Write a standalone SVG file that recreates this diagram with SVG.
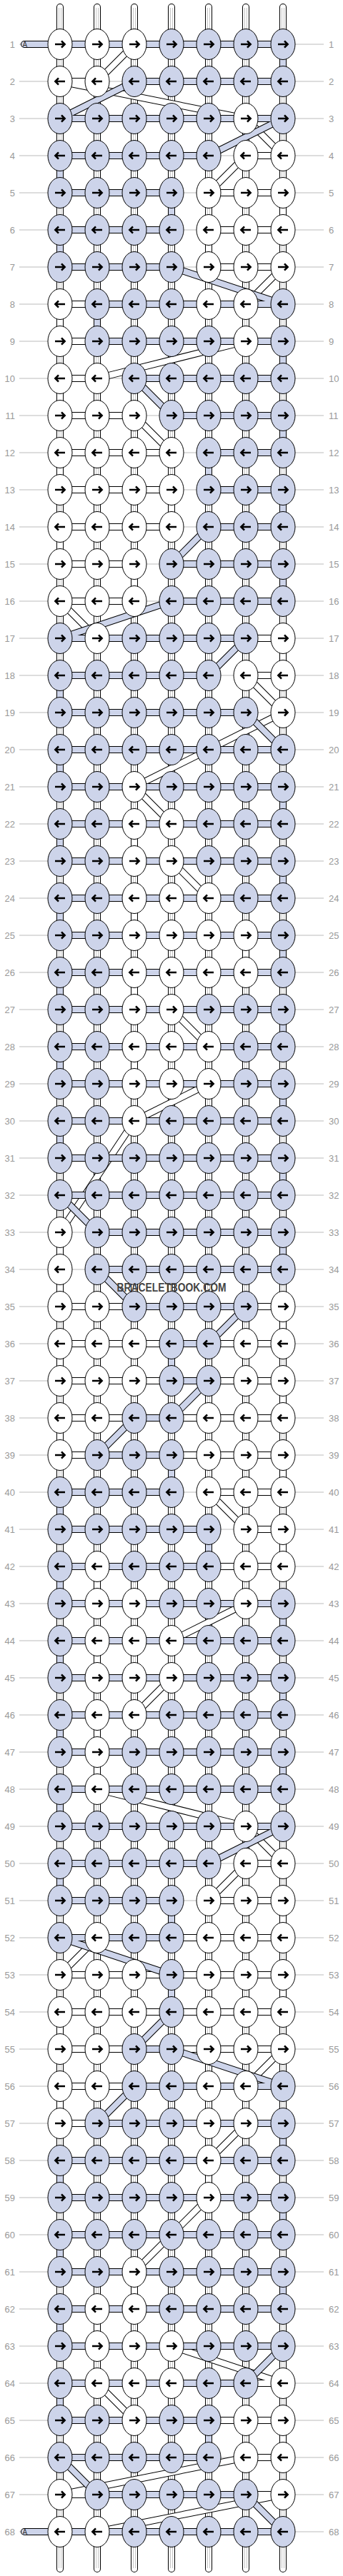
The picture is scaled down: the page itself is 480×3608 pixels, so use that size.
<svg xmlns="http://www.w3.org/2000/svg" xmlns:xlink="http://www.w3.org/1999/xlink" width="480" height="3608" viewBox="0 0 480 3608">
<style>
.gl{stroke:#bbb;stroke-width:1;fill:none}
.lb{font-family:"Liberation Sans",Arial,sans-serif;font-size:13px;fill:#999}
.le{text-anchor:end}
.k1{stroke:#000;stroke-width:10;stroke-linecap:round;fill:none}
.k2{stroke:#fff;stroke-width:8;stroke-linecap:round;fill:none}
.k3{stroke:#c4c4c4;stroke-width:4;fill:none}
.k4{stroke:#fff;stroke-width:2;fill:none}
.bo{stroke:#000;stroke-width:10;fill:none;stroke-linejoin:round}
.wf{stroke:#fff;stroke-width:8;fill:none;stroke-linejoin:round}
.lf{stroke:#cdd4ea;stroke-width:8;fill:none;stroke-linejoin:round}
.lc{stroke-linecap:round}
.w{fill:#fff;stroke:#000;stroke-width:1}
.b{fill:#cdd4ea;stroke:#000;stroke-width:1}
.ar{fill:none;stroke:#000;stroke-width:2.6}
.wm{font-family:"Liberation Sans",Arial,sans-serif;font-weight:bold;font-size:16px;fill:#444;text-anchor:middle}
.al{font-family:"Liberation Sans",Arial,sans-serif;font-size:10px;fill:#333}
</style>
<defs>
<path id="ar" class="ar" d="M-7,0H6M2,-4.6L6.6,0L2,4.6"/>
<g id="Wr"><ellipse class="w" rx="17" ry="21.5"/><use href="#ar"/></g>
<g id="Wl"><ellipse class="w" rx="17" ry="21.5"/><use href="#ar" transform="scale(-1,1)"/></g>
<g id="Br"><ellipse class="b" rx="17" ry="21.5"/><use href="#ar"/></g>
<g id="Bl"><ellipse class="b" rx="17" ry="21.5"/><use href="#ar" transform="scale(-1,1)"/></g>
<path id="wpath" d="M84,62L188,62L136,114L84,114L344,166L396,218L344,218L292,270L396,270L396,322L292,322L292,374L396,374L344,426L84,426L84,478L344,478L136,530L84,530L84,582L188,582L240,634L84,634L84,686L240,686L240,738L84,738L84,790L188,790L188,842L84,842L136,894L396,894L396,946L344,946L396,998L188,1102L240,1154L188,1154L188,1206L240,1206L292,1258L188,1258L188,1310L344,1310L344,1362L188,1362L188,1414L240,1414L292,1466L188,1466L188,1518L292,1518L188,1570L84,1726L84,1778L84,1830L396,1830L396,1882L84,1882L84,1934L396,1934L396,1986L84,1986L84,2038L396,2038L396,2090L292,2090L344,2142L396,2142L396,2194L136,2194L136,2246L344,2246L240,2298L136,2298L136,2350L240,2350L188,2402L136,2402L136,2454L136,2506L344,2558L396,2610L344,2610L292,2662L396,2662L396,2714L136,2714L84,2766L396,2766L396,2818L84,2818L84,2870L396,2870L344,2922L84,2922L84,2974L344,2974L292,3026L292,3078L188,3182L188,3234L136,3234L136,3286L240,3286L396,3338L136,3338L188,3390L396,3390L396,3442L344,3442L84,3494L396,3494L136,3546L84,3546"/>
<path id="lpath" d="M34,62L396,62L396,114L188,114L84,166L396,166L292,218L84,218L84,270L240,270L240,322L84,322L84,374L240,374L396,426L136,426L136,478L396,478L396,530L188,530L240,582L396,582L396,634L292,634L292,686L396,686L396,738L292,738L240,790L396,790L396,842L240,842L84,894L344,894L292,946L84,946L84,998L344,998L396,1050L84,1050L84,1102L396,1102L396,1154L84,1154L84,1206L396,1206L396,1258L84,1258L84,1310L396,1310L396,1362L84,1362L84,1414L396,1414L396,1466L84,1466L84,1518L396,1518L396,1570L84,1570L84,1622L396,1622L396,1674L84,1674L136,1726L396,1726L396,1778L136,1778L188,1830L344,1830L292,1882L240,1882L240,1934L292,1934L240,1986L188,1986L136,2038L240,2038L240,2090L84,2090L84,2142L292,2142L292,2194L84,2194L84,2246L396,2246L396,2298L84,2298L84,2350L396,2350L396,2402L84,2402L84,2454L396,2454L396,2506L84,2506L84,2558L396,2558L292,2610L84,2610L84,2662L240,2662L240,2714L84,2714L240,2766L240,2818L188,2870L240,2870L396,2922L188,2922L136,2974L396,2974L396,3026L84,3026L84,3078L396,3078L396,3130L84,3130L84,3182L396,3182L396,3234L84,3234L84,3286L396,3286L344,3338L84,3338L84,3390L292,3390L292,3442L84,3442L136,3494L344,3494L396,3546L34,3546"/>
</defs>
<rect width="480" height="3608" fill="#fff"/>
<g id="rows">
<path class="gl" d="M27,62H453M27,114H453M27,166H453M27,218H453M27,270H453M27,322H453M27,374H453M27,426H453M27,478H453M27,530H453M27,582H453M27,634H453M27,686H453M27,738H453M27,790H453M27,842H453M27,894H453M27,946H453M27,998H453M27,1050H453M27,1102H453M27,1154H453M27,1206H453M27,1258H453M27,1310H453M27,1362H453M27,1414H453M27,1466H453M27,1518H453M27,1570H453M27,1622H453M27,1674H453M27,1726H453M27,1778H453M27,1830H453M27,1882H453M27,1934H453M27,1986H453M27,2038H453M27,2090H453M27,2142H453M27,2194H453M27,2246H453M27,2298H453M27,2350H453M27,2402H453M27,2454H453M27,2506H453M27,2558H453M27,2610H453M27,2662H453M27,2714H453M27,2766H453M27,2818H453M27,2870H453M27,2922H453M27,2974H453M27,3026H453M27,3078H453M27,3130H453M27,3182H453M27,3234H453M27,3286H453M27,3338H453M27,3390H453M27,3442H453M27,3494H453M27,3546H453"/>
<g class="lb le">
<text x="21" y="66.5">1</text><text x="21" y="118.5">2</text><text x="21" y="170.5">3</text><text x="21" y="222.5">4</text><text x="21" y="274.5">5</text><text x="21" y="326.5">6</text><text x="21" y="378.5">7</text><text x="21" y="430.5">8</text><text x="21" y="482.5">9</text><text x="21" y="534.5">10</text><text x="21" y="586.5">11</text><text x="21" y="638.5">12</text><text x="21" y="690.5">13</text><text x="21" y="742.5">14</text><text x="21" y="794.5">15</text><text x="21" y="846.5">16</text><text x="21" y="898.5">17</text><text x="21" y="950.5">18</text><text x="21" y="1002.5">19</text><text x="21" y="1054.5">20</text><text x="21" y="1106.5">21</text><text x="21" y="1158.5">22</text><text x="21" y="1210.5">23</text><text x="21" y="1262.5">24</text><text x="21" y="1314.5">25</text><text x="21" y="1366.5">26</text><text x="21" y="1418.5">27</text><text x="21" y="1470.5">28</text><text x="21" y="1522.5">29</text><text x="21" y="1574.5">30</text><text x="21" y="1626.5">31</text><text x="21" y="1678.5">32</text><text x="21" y="1730.5">33</text><text x="21" y="1782.5">34</text><text x="21" y="1834.5">35</text><text x="21" y="1886.5">36</text><text x="21" y="1938.5">37</text><text x="21" y="1990.5">38</text><text x="21" y="2042.5">39</text><text x="21" y="2094.5">40</text><text x="21" y="2146.5">41</text><text x="21" y="2198.5">42</text><text x="21" y="2250.5">43</text><text x="21" y="2302.5">44</text><text x="21" y="2354.5">45</text><text x="21" y="2406.5">46</text><text x="21" y="2458.5">47</text><text x="21" y="2510.5">48</text><text x="21" y="2562.5">49</text><text x="21" y="2614.5">50</text><text x="21" y="2666.5">51</text><text x="21" y="2718.5">52</text><text x="21" y="2770.5">53</text><text x="21" y="2822.5">54</text><text x="21" y="2874.5">55</text><text x="21" y="2926.5">56</text><text x="21" y="2978.5">57</text><text x="21" y="3030.5">58</text><text x="21" y="3082.5">59</text><text x="21" y="3134.5">60</text><text x="21" y="3186.5">61</text><text x="21" y="3238.5">62</text><text x="21" y="3290.5">63</text><text x="21" y="3342.5">64</text><text x="21" y="3394.5">65</text><text x="21" y="3446.5">66</text><text x="21" y="3498.5">67</text><text x="21" y="3550.5">68</text>
</g>
<g class="lb">
<text x="460" y="66.5">1</text><text x="460" y="118.5">2</text><text x="460" y="170.5">3</text><text x="460" y="222.5">4</text><text x="460" y="274.5">5</text><text x="460" y="326.5">6</text><text x="460" y="378.5">7</text><text x="460" y="430.5">8</text><text x="460" y="482.5">9</text><text x="460" y="534.5">10</text><text x="460" y="586.5">11</text><text x="460" y="638.5">12</text><text x="460" y="690.5">13</text><text x="460" y="742.5">14</text><text x="460" y="794.5">15</text><text x="460" y="846.5">16</text><text x="460" y="898.5">17</text><text x="460" y="950.5">18</text><text x="460" y="1002.5">19</text><text x="460" y="1054.5">20</text><text x="460" y="1106.5">21</text><text x="460" y="1158.5">22</text><text x="460" y="1210.5">23</text><text x="460" y="1262.5">24</text><text x="460" y="1314.5">25</text><text x="460" y="1366.5">26</text><text x="460" y="1418.5">27</text><text x="460" y="1470.5">28</text><text x="460" y="1522.5">29</text><text x="460" y="1574.5">30</text><text x="460" y="1626.5">31</text><text x="460" y="1678.5">32</text><text x="460" y="1730.5">33</text><text x="460" y="1782.5">34</text><text x="460" y="1834.5">35</text><text x="460" y="1886.5">36</text><text x="460" y="1938.5">37</text><text x="460" y="1990.5">38</text><text x="460" y="2042.5">39</text><text x="460" y="2094.5">40</text><text x="460" y="2146.5">41</text><text x="460" y="2198.5">42</text><text x="460" y="2250.5">43</text><text x="460" y="2302.5">44</text><text x="460" y="2354.5">45</text><text x="460" y="2406.5">46</text><text x="460" y="2458.5">47</text><text x="460" y="2510.5">48</text><text x="460" y="2562.5">49</text><text x="460" y="2614.5">50</text><text x="460" y="2666.5">51</text><text x="460" y="2718.5">52</text><text x="460" y="2770.5">53</text><text x="460" y="2822.5">54</text><text x="460" y="2874.5">55</text><text x="460" y="2926.5">56</text><text x="460" y="2978.5">57</text><text x="460" y="3030.5">58</text><text x="460" y="3082.5">59</text><text x="460" y="3134.5">60</text><text x="460" y="3186.5">61</text><text x="460" y="3238.5">62</text><text x="460" y="3290.5">63</text><text x="460" y="3342.5">64</text><text x="460" y="3394.5">65</text><text x="460" y="3446.5">66</text><text x="460" y="3498.5">67</text><text x="460" y="3550.5">68</text>
</g>
</g>
<g id="connectors">
<g id="warp">
<path class="k1" d="M84,10V3598M136,10V3598M188,10V3598M240,10V3598M292,10V3598M344,10V3598M396,10V3598"/>
<path class="k2" d="M84,10V3598M136,10V3598M188,10V3598M240,10V3598M292,10V3598M344,10V3598M396,10V3598"/>
<path class="k3" d="M84,11V3597M136,11V3597M188,11V3597M240,11V3597M292,11V3597M344,11V3597M396,11V3597"/>
<path class="k4" d="M84,11V3597M136,11V3597M188,11V3597M240,11V3597M292,11V3597M344,11V3597M396,11V3597"/>
</g>
<g id="white-string">
<use href="#wpath" class="bo"/>
<use href="#wpath" class="wf"/>
</g>
<g id="lavender-string">
<use href="#lpath" class="bo lc"/>
<use href="#lpath" class="lf lc"/>
<text class="al" x="31.5" y="65.6">A</text>
<text class="al" x="31.5" y="3549.6">A</text>
</g>
</g>
<g id="nodes">
<g id="n1-1"><use href="#Wr" x="84" y="62"/></g><g id="n1-2"><use href="#Wr" x="136" y="62"/></g><g id="n1-3"><use href="#Wr" x="188" y="62"/></g><g id="n1-4"><use href="#Br" x="240" y="62"/></g><g id="n1-5"><use href="#Br" x="292" y="62"/></g><g id="n1-6"><use href="#Br" x="344" y="62"/></g><g id="n1-7"><use href="#Br" x="396" y="62"/></g>
<g id="n2-1"><use href="#Wl" x="84" y="114"/></g><g id="n2-2"><use href="#Wl" x="136" y="114"/></g><g id="n2-3"><use href="#Bl" x="188" y="114"/></g><g id="n2-4"><use href="#Bl" x="240" y="114"/></g><g id="n2-5"><use href="#Bl" x="292" y="114"/></g><g id="n2-6"><use href="#Bl" x="344" y="114"/></g><g id="n2-7"><use href="#Bl" x="396" y="114"/></g>
<g id="n3-1"><use href="#Br" x="84" y="166"/></g><g id="n3-2"><use href="#Br" x="136" y="166"/></g><g id="n3-3"><use href="#Br" x="188" y="166"/></g><g id="n3-4"><use href="#Br" x="240" y="166"/></g><g id="n3-5"><use href="#Br" x="292" y="166"/></g><g id="n3-6"><use href="#Wr" x="344" y="166"/></g><g id="n3-7"><use href="#Br" x="396" y="166"/></g>
<g id="n4-1"><use href="#Bl" x="84" y="218"/></g><g id="n4-2"><use href="#Bl" x="136" y="218"/></g><g id="n4-3"><use href="#Bl" x="188" y="218"/></g><g id="n4-4"><use href="#Bl" x="240" y="218"/></g><g id="n4-5"><use href="#Bl" x="292" y="218"/></g><g id="n4-6"><use href="#Wl" x="344" y="218"/></g><g id="n4-7"><use href="#Wl" x="396" y="218"/></g>
<g id="n5-1"><use href="#Br" x="84" y="270"/></g><g id="n5-2"><use href="#Br" x="136" y="270"/></g><g id="n5-3"><use href="#Br" x="188" y="270"/></g><g id="n5-4"><use href="#Br" x="240" y="270"/></g><g id="n5-5"><use href="#Wr" x="292" y="270"/></g><g id="n5-6"><use href="#Wr" x="344" y="270"/></g><g id="n5-7"><use href="#Wr" x="396" y="270"/></g>
<g id="n6-1"><use href="#Bl" x="84" y="322"/></g><g id="n6-2"><use href="#Bl" x="136" y="322"/></g><g id="n6-3"><use href="#Bl" x="188" y="322"/></g><g id="n6-4"><use href="#Bl" x="240" y="322"/></g><g id="n6-5"><use href="#Wl" x="292" y="322"/></g><g id="n6-6"><use href="#Wl" x="344" y="322"/></g><g id="n6-7"><use href="#Wl" x="396" y="322"/></g>
<g id="n7-1"><use href="#Br" x="84" y="374"/></g><g id="n7-2"><use href="#Br" x="136" y="374"/></g><g id="n7-3"><use href="#Br" x="188" y="374"/></g><g id="n7-4"><use href="#Br" x="240" y="374"/></g><g id="n7-5"><use href="#Wr" x="292" y="374"/></g><g id="n7-6"><use href="#Wr" x="344" y="374"/></g><g id="n7-7"><use href="#Wr" x="396" y="374"/></g>
<g id="n8-1"><use href="#Wl" x="84" y="426"/></g><g id="n8-2"><use href="#Bl" x="136" y="426"/></g><g id="n8-3"><use href="#Bl" x="188" y="426"/></g><g id="n8-4"><use href="#Bl" x="240" y="426"/></g><g id="n8-5"><use href="#Wl" x="292" y="426"/></g><g id="n8-6"><use href="#Wl" x="344" y="426"/></g><g id="n8-7"><use href="#Bl" x="396" y="426"/></g>
<g id="n9-1"><use href="#Wr" x="84" y="478"/></g><g id="n9-2"><use href="#Br" x="136" y="478"/></g><g id="n9-3"><use href="#Br" x="188" y="478"/></g><g id="n9-4"><use href="#Br" x="240" y="478"/></g><g id="n9-5"><use href="#Br" x="292" y="478"/></g><g id="n9-6"><use href="#Wr" x="344" y="478"/></g><g id="n9-7"><use href="#Br" x="396" y="478"/></g>
<g id="n10-1"><use href="#Wl" x="84" y="530"/></g><g id="n10-2"><use href="#Wl" x="136" y="530"/></g><g id="n10-3"><use href="#Bl" x="188" y="530"/></g><g id="n10-4"><use href="#Bl" x="240" y="530"/></g><g id="n10-5"><use href="#Bl" x="292" y="530"/></g><g id="n10-6"><use href="#Bl" x="344" y="530"/></g><g id="n10-7"><use href="#Bl" x="396" y="530"/></g>
<g id="n11-1"><use href="#Wr" x="84" y="582"/></g><g id="n11-2"><use href="#Wr" x="136" y="582"/></g><g id="n11-3"><use href="#Wr" x="188" y="582"/></g><g id="n11-4"><use href="#Br" x="240" y="582"/></g><g id="n11-5"><use href="#Br" x="292" y="582"/></g><g id="n11-6"><use href="#Br" x="344" y="582"/></g><g id="n11-7"><use href="#Br" x="396" y="582"/></g>
<g id="n12-1"><use href="#Wl" x="84" y="634"/></g><g id="n12-2"><use href="#Wl" x="136" y="634"/></g><g id="n12-3"><use href="#Wl" x="188" y="634"/></g><g id="n12-4"><use href="#Wl" x="240" y="634"/></g><g id="n12-5"><use href="#Bl" x="292" y="634"/></g><g id="n12-6"><use href="#Bl" x="344" y="634"/></g><g id="n12-7"><use href="#Bl" x="396" y="634"/></g>
<g id="n13-1"><use href="#Wr" x="84" y="686"/></g><g id="n13-2"><use href="#Wr" x="136" y="686"/></g><g id="n13-3"><use href="#Wr" x="188" y="686"/></g><g id="n13-4"><use href="#Wr" x="240" y="686"/></g><g id="n13-5"><use href="#Br" x="292" y="686"/></g><g id="n13-6"><use href="#Br" x="344" y="686"/></g><g id="n13-7"><use href="#Br" x="396" y="686"/></g>
<g id="n14-1"><use href="#Wl" x="84" y="738"/></g><g id="n14-2"><use href="#Wl" x="136" y="738"/></g><g id="n14-3"><use href="#Wl" x="188" y="738"/></g><g id="n14-4"><use href="#Wl" x="240" y="738"/></g><g id="n14-5"><use href="#Bl" x="292" y="738"/></g><g id="n14-6"><use href="#Bl" x="344" y="738"/></g><g id="n14-7"><use href="#Bl" x="396" y="738"/></g>
<g id="n15-1"><use href="#Wr" x="84" y="790"/></g><g id="n15-2"><use href="#Wr" x="136" y="790"/></g><g id="n15-3"><use href="#Wr" x="188" y="790"/></g><g id="n15-4"><use href="#Br" x="240" y="790"/></g><g id="n15-5"><use href="#Br" x="292" y="790"/></g><g id="n15-6"><use href="#Br" x="344" y="790"/></g><g id="n15-7"><use href="#Br" x="396" y="790"/></g>
<g id="n16-1"><use href="#Wl" x="84" y="842"/></g><g id="n16-2"><use href="#Wl" x="136" y="842"/></g><g id="n16-3"><use href="#Wl" x="188" y="842"/></g><g id="n16-4"><use href="#Bl" x="240" y="842"/></g><g id="n16-5"><use href="#Bl" x="292" y="842"/></g><g id="n16-6"><use href="#Bl" x="344" y="842"/></g><g id="n16-7"><use href="#Bl" x="396" y="842"/></g>
<g id="n17-1"><use href="#Br" x="84" y="894"/></g><g id="n17-2"><use href="#Wr" x="136" y="894"/></g><g id="n17-3"><use href="#Br" x="188" y="894"/></g><g id="n17-4"><use href="#Br" x="240" y="894"/></g><g id="n17-5"><use href="#Br" x="292" y="894"/></g><g id="n17-6"><use href="#Br" x="344" y="894"/></g><g id="n17-7"><use href="#Wr" x="396" y="894"/></g>
<g id="n18-1"><use href="#Bl" x="84" y="946"/></g><g id="n18-2"><use href="#Bl" x="136" y="946"/></g><g id="n18-3"><use href="#Bl" x="188" y="946"/></g><g id="n18-4"><use href="#Bl" x="240" y="946"/></g><g id="n18-5"><use href="#Bl" x="292" y="946"/></g><g id="n18-6"><use href="#Wl" x="344" y="946"/></g><g id="n18-7"><use href="#Wl" x="396" y="946"/></g>
<g id="n19-1"><use href="#Br" x="84" y="998"/></g><g id="n19-2"><use href="#Br" x="136" y="998"/></g><g id="n19-3"><use href="#Br" x="188" y="998"/></g><g id="n19-4"><use href="#Br" x="240" y="998"/></g><g id="n19-5"><use href="#Br" x="292" y="998"/></g><g id="n19-6"><use href="#Br" x="344" y="998"/></g><g id="n19-7"><use href="#Wr" x="396" y="998"/></g>
<g id="n20-1"><use href="#Bl" x="84" y="1050"/></g><g id="n20-2"><use href="#Bl" x="136" y="1050"/></g><g id="n20-3"><use href="#Bl" x="188" y="1050"/></g><g id="n20-4"><use href="#Bl" x="240" y="1050"/></g><g id="n20-5"><use href="#Bl" x="292" y="1050"/></g><g id="n20-6"><use href="#Bl" x="344" y="1050"/></g><g id="n20-7"><use href="#Bl" x="396" y="1050"/></g>
<g id="n21-1"><use href="#Br" x="84" y="1102"/></g><g id="n21-2"><use href="#Br" x="136" y="1102"/></g><g id="n21-3"><use href="#Wr" x="188" y="1102"/></g><g id="n21-4"><use href="#Br" x="240" y="1102"/></g><g id="n21-5"><use href="#Br" x="292" y="1102"/></g><g id="n21-6"><use href="#Br" x="344" y="1102"/></g><g id="n21-7"><use href="#Br" x="396" y="1102"/></g>
<g id="n22-1"><use href="#Bl" x="84" y="1154"/></g><g id="n22-2"><use href="#Bl" x="136" y="1154"/></g><g id="n22-3"><use href="#Wl" x="188" y="1154"/></g><g id="n22-4"><use href="#Wl" x="240" y="1154"/></g><g id="n22-5"><use href="#Bl" x="292" y="1154"/></g><g id="n22-6"><use href="#Bl" x="344" y="1154"/></g><g id="n22-7"><use href="#Bl" x="396" y="1154"/></g>
<g id="n23-1"><use href="#Br" x="84" y="1206"/></g><g id="n23-2"><use href="#Br" x="136" y="1206"/></g><g id="n23-3"><use href="#Wr" x="188" y="1206"/></g><g id="n23-4"><use href="#Wr" x="240" y="1206"/></g><g id="n23-5"><use href="#Br" x="292" y="1206"/></g><g id="n23-6"><use href="#Br" x="344" y="1206"/></g><g id="n23-7"><use href="#Br" x="396" y="1206"/></g>
<g id="n24-1"><use href="#Bl" x="84" y="1258"/></g><g id="n24-2"><use href="#Bl" x="136" y="1258"/></g><g id="n24-3"><use href="#Wl" x="188" y="1258"/></g><g id="n24-4"><use href="#Wl" x="240" y="1258"/></g><g id="n24-5"><use href="#Wl" x="292" y="1258"/></g><g id="n24-6"><use href="#Bl" x="344" y="1258"/></g><g id="n24-7"><use href="#Bl" x="396" y="1258"/></g>
<g id="n25-1"><use href="#Br" x="84" y="1310"/></g><g id="n25-2"><use href="#Br" x="136" y="1310"/></g><g id="n25-3"><use href="#Wr" x="188" y="1310"/></g><g id="n25-4"><use href="#Wr" x="240" y="1310"/></g><g id="n25-5"><use href="#Wr" x="292" y="1310"/></g><g id="n25-6"><use href="#Wr" x="344" y="1310"/></g><g id="n25-7"><use href="#Br" x="396" y="1310"/></g>
<g id="n26-1"><use href="#Bl" x="84" y="1362"/></g><g id="n26-2"><use href="#Bl" x="136" y="1362"/></g><g id="n26-3"><use href="#Wl" x="188" y="1362"/></g><g id="n26-4"><use href="#Wl" x="240" y="1362"/></g><g id="n26-5"><use href="#Wl" x="292" y="1362"/></g><g id="n26-6"><use href="#Wl" x="344" y="1362"/></g><g id="n26-7"><use href="#Bl" x="396" y="1362"/></g>
<g id="n27-1"><use href="#Br" x="84" y="1414"/></g><g id="n27-2"><use href="#Br" x="136" y="1414"/></g><g id="n27-3"><use href="#Wr" x="188" y="1414"/></g><g id="n27-4"><use href="#Wr" x="240" y="1414"/></g><g id="n27-5"><use href="#Br" x="292" y="1414"/></g><g id="n27-6"><use href="#Br" x="344" y="1414"/></g><g id="n27-7"><use href="#Br" x="396" y="1414"/></g>
<g id="n28-1"><use href="#Bl" x="84" y="1466"/></g><g id="n28-2"><use href="#Bl" x="136" y="1466"/></g><g id="n28-3"><use href="#Wl" x="188" y="1466"/></g><g id="n28-4"><use href="#Wl" x="240" y="1466"/></g><g id="n28-5"><use href="#Wl" x="292" y="1466"/></g><g id="n28-6"><use href="#Bl" x="344" y="1466"/></g><g id="n28-7"><use href="#Bl" x="396" y="1466"/></g>
<g id="n29-1"><use href="#Br" x="84" y="1518"/></g><g id="n29-2"><use href="#Br" x="136" y="1518"/></g><g id="n29-3"><use href="#Wr" x="188" y="1518"/></g><g id="n29-4"><use href="#Wr" x="240" y="1518"/></g><g id="n29-5"><use href="#Wr" x="292" y="1518"/></g><g id="n29-6"><use href="#Br" x="344" y="1518"/></g><g id="n29-7"><use href="#Br" x="396" y="1518"/></g>
<g id="n30-1"><use href="#Bl" x="84" y="1570"/></g><g id="n30-2"><use href="#Bl" x="136" y="1570"/></g><g id="n30-3"><use href="#Wl" x="188" y="1570"/></g><g id="n30-4"><use href="#Bl" x="240" y="1570"/></g><g id="n30-5"><use href="#Bl" x="292" y="1570"/></g><g id="n30-6"><use href="#Bl" x="344" y="1570"/></g><g id="n30-7"><use href="#Bl" x="396" y="1570"/></g>
<g id="n31-1"><use href="#Br" x="84" y="1622"/></g><g id="n31-2"><use href="#Br" x="136" y="1622"/></g><g id="n31-3"><use href="#Br" x="188" y="1622"/></g><g id="n31-4"><use href="#Br" x="240" y="1622"/></g><g id="n31-5"><use href="#Br" x="292" y="1622"/></g><g id="n31-6"><use href="#Br" x="344" y="1622"/></g><g id="n31-7"><use href="#Br" x="396" y="1622"/></g>
<g id="n32-1"><use href="#Bl" x="84" y="1674"/></g><g id="n32-2"><use href="#Bl" x="136" y="1674"/></g><g id="n32-3"><use href="#Bl" x="188" y="1674"/></g><g id="n32-4"><use href="#Bl" x="240" y="1674"/></g><g id="n32-5"><use href="#Bl" x="292" y="1674"/></g><g id="n32-6"><use href="#Bl" x="344" y="1674"/></g><g id="n32-7"><use href="#Bl" x="396" y="1674"/></g>
<g id="n33-1"><use href="#Wr" x="84" y="1726"/></g><g id="n33-2"><use href="#Br" x="136" y="1726"/></g><g id="n33-3"><use href="#Br" x="188" y="1726"/></g><g id="n33-4"><use href="#Br" x="240" y="1726"/></g><g id="n33-5"><use href="#Br" x="292" y="1726"/></g><g id="n33-6"><use href="#Br" x="344" y="1726"/></g><g id="n33-7"><use href="#Br" x="396" y="1726"/></g>
<g id="n34-1"><use href="#Wl" x="84" y="1778"/></g><g id="n34-2"><use href="#Bl" x="136" y="1778"/></g><g id="n34-3"><use href="#Bl" x="188" y="1778"/></g><g id="n34-4"><use href="#Bl" x="240" y="1778"/></g><g id="n34-5"><use href="#Bl" x="292" y="1778"/></g><g id="n34-6"><use href="#Bl" x="344" y="1778"/></g><g id="n34-7"><use href="#Bl" x="396" y="1778"/></g>
<g id="n35-1"><use href="#Wr" x="84" y="1830"/></g><g id="n35-2"><use href="#Wr" x="136" y="1830"/></g><g id="n35-3"><use href="#Br" x="188" y="1830"/></g><g id="n35-4"><use href="#Br" x="240" y="1830"/></g><g id="n35-5"><use href="#Br" x="292" y="1830"/></g><g id="n35-6"><use href="#Br" x="344" y="1830"/></g><g id="n35-7"><use href="#Wr" x="396" y="1830"/></g>
<g id="n36-1"><use href="#Wl" x="84" y="1882"/></g><g id="n36-2"><use href="#Wl" x="136" y="1882"/></g><g id="n36-3"><use href="#Wl" x="188" y="1882"/></g><g id="n36-4"><use href="#Bl" x="240" y="1882"/></g><g id="n36-5"><use href="#Bl" x="292" y="1882"/></g><g id="n36-6"><use href="#Wl" x="344" y="1882"/></g><g id="n36-7"><use href="#Wl" x="396" y="1882"/></g>
<g id="n37-1"><use href="#Wr" x="84" y="1934"/></g><g id="n37-2"><use href="#Wr" x="136" y="1934"/></g><g id="n37-3"><use href="#Wr" x="188" y="1934"/></g><g id="n37-4"><use href="#Br" x="240" y="1934"/></g><g id="n37-5"><use href="#Br" x="292" y="1934"/></g><g id="n37-6"><use href="#Wr" x="344" y="1934"/></g><g id="n37-7"><use href="#Wr" x="396" y="1934"/></g>
<g id="n38-1"><use href="#Wl" x="84" y="1986"/></g><g id="n38-2"><use href="#Wl" x="136" y="1986"/></g><g id="n38-3"><use href="#Bl" x="188" y="1986"/></g><g id="n38-4"><use href="#Bl" x="240" y="1986"/></g><g id="n38-5"><use href="#Wl" x="292" y="1986"/></g><g id="n38-6"><use href="#Wl" x="344" y="1986"/></g><g id="n38-7"><use href="#Wl" x="396" y="1986"/></g>
<g id="n39-1"><use href="#Wr" x="84" y="2038"/></g><g id="n39-2"><use href="#Br" x="136" y="2038"/></g><g id="n39-3"><use href="#Br" x="188" y="2038"/></g><g id="n39-4"><use href="#Br" x="240" y="2038"/></g><g id="n39-5"><use href="#Wr" x="292" y="2038"/></g><g id="n39-6"><use href="#Wr" x="344" y="2038"/></g><g id="n39-7"><use href="#Wr" x="396" y="2038"/></g>
<g id="n40-1"><use href="#Bl" x="84" y="2090"/></g><g id="n40-2"><use href="#Bl" x="136" y="2090"/></g><g id="n40-3"><use href="#Bl" x="188" y="2090"/></g><g id="n40-4"><use href="#Bl" x="240" y="2090"/></g><g id="n40-5"><use href="#Wl" x="292" y="2090"/></g><g id="n40-6"><use href="#Wl" x="344" y="2090"/></g><g id="n40-7"><use href="#Wl" x="396" y="2090"/></g>
<g id="n41-1"><use href="#Br" x="84" y="2142"/></g><g id="n41-2"><use href="#Br" x="136" y="2142"/></g><g id="n41-3"><use href="#Br" x="188" y="2142"/></g><g id="n41-4"><use href="#Br" x="240" y="2142"/></g><g id="n41-5"><use href="#Br" x="292" y="2142"/></g><g id="n41-6"><use href="#Wr" x="344" y="2142"/></g><g id="n41-7"><use href="#Wr" x="396" y="2142"/></g>
<g id="n42-1"><use href="#Bl" x="84" y="2194"/></g><g id="n42-2"><use href="#Wl" x="136" y="2194"/></g><g id="n42-3"><use href="#Bl" x="188" y="2194"/></g><g id="n42-4"><use href="#Bl" x="240" y="2194"/></g><g id="n42-5"><use href="#Bl" x="292" y="2194"/></g><g id="n42-6"><use href="#Wl" x="344" y="2194"/></g><g id="n42-7"><use href="#Wl" x="396" y="2194"/></g>
<g id="n43-1"><use href="#Br" x="84" y="2246"/></g><g id="n43-2"><use href="#Wr" x="136" y="2246"/></g><g id="n43-3"><use href="#Wr" x="188" y="2246"/></g><g id="n43-4"><use href="#Br" x="240" y="2246"/></g><g id="n43-5"><use href="#Br" x="292" y="2246"/></g><g id="n43-6"><use href="#Wr" x="344" y="2246"/></g><g id="n43-7"><use href="#Br" x="396" y="2246"/></g>
<g id="n44-1"><use href="#Bl" x="84" y="2298"/></g><g id="n44-2"><use href="#Wl" x="136" y="2298"/></g><g id="n44-3"><use href="#Wl" x="188" y="2298"/></g><g id="n44-4"><use href="#Wl" x="240" y="2298"/></g><g id="n44-5"><use href="#Bl" x="292" y="2298"/></g><g id="n44-6"><use href="#Bl" x="344" y="2298"/></g><g id="n44-7"><use href="#Bl" x="396" y="2298"/></g>
<g id="n45-1"><use href="#Br" x="84" y="2350"/></g><g id="n45-2"><use href="#Wr" x="136" y="2350"/></g><g id="n45-3"><use href="#Wr" x="188" y="2350"/></g><g id="n45-4"><use href="#Wr" x="240" y="2350"/></g><g id="n45-5"><use href="#Br" x="292" y="2350"/></g><g id="n45-6"><use href="#Br" x="344" y="2350"/></g><g id="n45-7"><use href="#Br" x="396" y="2350"/></g>
<g id="n46-1"><use href="#Bl" x="84" y="2402"/></g><g id="n46-2"><use href="#Wl" x="136" y="2402"/></g><g id="n46-3"><use href="#Wl" x="188" y="2402"/></g><g id="n46-4"><use href="#Bl" x="240" y="2402"/></g><g id="n46-5"><use href="#Bl" x="292" y="2402"/></g><g id="n46-6"><use href="#Bl" x="344" y="2402"/></g><g id="n46-7"><use href="#Bl" x="396" y="2402"/></g>
<g id="n47-1"><use href="#Br" x="84" y="2454"/></g><g id="n47-2"><use href="#Wr" x="136" y="2454"/></g><g id="n47-3"><use href="#Br" x="188" y="2454"/></g><g id="n47-4"><use href="#Br" x="240" y="2454"/></g><g id="n47-5"><use href="#Br" x="292" y="2454"/></g><g id="n47-6"><use href="#Br" x="344" y="2454"/></g><g id="n47-7"><use href="#Br" x="396" y="2454"/></g>
<g id="n48-1"><use href="#Bl" x="84" y="2506"/></g><g id="n48-2"><use href="#Wl" x="136" y="2506"/></g><g id="n48-3"><use href="#Bl" x="188" y="2506"/></g><g id="n48-4"><use href="#Bl" x="240" y="2506"/></g><g id="n48-5"><use href="#Bl" x="292" y="2506"/></g><g id="n48-6"><use href="#Bl" x="344" y="2506"/></g><g id="n48-7"><use href="#Bl" x="396" y="2506"/></g>
<g id="n49-1"><use href="#Br" x="84" y="2558"/></g><g id="n49-2"><use href="#Br" x="136" y="2558"/></g><g id="n49-3"><use href="#Br" x="188" y="2558"/></g><g id="n49-4"><use href="#Br" x="240" y="2558"/></g><g id="n49-5"><use href="#Br" x="292" y="2558"/></g><g id="n49-6"><use href="#Wr" x="344" y="2558"/></g><g id="n49-7"><use href="#Br" x="396" y="2558"/></g>
<g id="n50-1"><use href="#Bl" x="84" y="2610"/></g><g id="n50-2"><use href="#Bl" x="136" y="2610"/></g><g id="n50-3"><use href="#Bl" x="188" y="2610"/></g><g id="n50-4"><use href="#Bl" x="240" y="2610"/></g><g id="n50-5"><use href="#Bl" x="292" y="2610"/></g><g id="n50-6"><use href="#Wl" x="344" y="2610"/></g><g id="n50-7"><use href="#Wl" x="396" y="2610"/></g>
<g id="n51-1"><use href="#Br" x="84" y="2662"/></g><g id="n51-2"><use href="#Br" x="136" y="2662"/></g><g id="n51-3"><use href="#Br" x="188" y="2662"/></g><g id="n51-4"><use href="#Br" x="240" y="2662"/></g><g id="n51-5"><use href="#Wr" x="292" y="2662"/></g><g id="n51-6"><use href="#Wr" x="344" y="2662"/></g><g id="n51-7"><use href="#Wr" x="396" y="2662"/></g>
<g id="n52-1"><use href="#Bl" x="84" y="2714"/></g><g id="n52-2"><use href="#Wl" x="136" y="2714"/></g><g id="n52-3"><use href="#Bl" x="188" y="2714"/></g><g id="n52-4"><use href="#Bl" x="240" y="2714"/></g><g id="n52-5"><use href="#Wl" x="292" y="2714"/></g><g id="n52-6"><use href="#Wl" x="344" y="2714"/></g><g id="n52-7"><use href="#Wl" x="396" y="2714"/></g>
<g id="n53-1"><use href="#Wr" x="84" y="2766"/></g><g id="n53-2"><use href="#Wr" x="136" y="2766"/></g><g id="n53-3"><use href="#Wr" x="188" y="2766"/></g><g id="n53-4"><use href="#Br" x="240" y="2766"/></g><g id="n53-5"><use href="#Wr" x="292" y="2766"/></g><g id="n53-6"><use href="#Wr" x="344" y="2766"/></g><g id="n53-7"><use href="#Wr" x="396" y="2766"/></g>
<g id="n54-1"><use href="#Wl" x="84" y="2818"/></g><g id="n54-2"><use href="#Wl" x="136" y="2818"/></g><g id="n54-3"><use href="#Wl" x="188" y="2818"/></g><g id="n54-4"><use href="#Bl" x="240" y="2818"/></g><g id="n54-5"><use href="#Wl" x="292" y="2818"/></g><g id="n54-6"><use href="#Wl" x="344" y="2818"/></g><g id="n54-7"><use href="#Wl" x="396" y="2818"/></g>
<g id="n55-1"><use href="#Wr" x="84" y="2870"/></g><g id="n55-2"><use href="#Wr" x="136" y="2870"/></g><g id="n55-3"><use href="#Br" x="188" y="2870"/></g><g id="n55-4"><use href="#Br" x="240" y="2870"/></g><g id="n55-5"><use href="#Wr" x="292" y="2870"/></g><g id="n55-6"><use href="#Wr" x="344" y="2870"/></g><g id="n55-7"><use href="#Wr" x="396" y="2870"/></g>
<g id="n56-1"><use href="#Wl" x="84" y="2922"/></g><g id="n56-2"><use href="#Wl" x="136" y="2922"/></g><g id="n56-3"><use href="#Bl" x="188" y="2922"/></g><g id="n56-4"><use href="#Bl" x="240" y="2922"/></g><g id="n56-5"><use href="#Wl" x="292" y="2922"/></g><g id="n56-6"><use href="#Wl" x="344" y="2922"/></g><g id="n56-7"><use href="#Bl" x="396" y="2922"/></g>
<g id="n57-1"><use href="#Wr" x="84" y="2974"/></g><g id="n57-2"><use href="#Br" x="136" y="2974"/></g><g id="n57-3"><use href="#Br" x="188" y="2974"/></g><g id="n57-4"><use href="#Br" x="240" y="2974"/></g><g id="n57-5"><use href="#Wr" x="292" y="2974"/></g><g id="n57-6"><use href="#Wr" x="344" y="2974"/></g><g id="n57-7"><use href="#Br" x="396" y="2974"/></g>
<g id="n58-1"><use href="#Bl" x="84" y="3026"/></g><g id="n58-2"><use href="#Bl" x="136" y="3026"/></g><g id="n58-3"><use href="#Bl" x="188" y="3026"/></g><g id="n58-4"><use href="#Bl" x="240" y="3026"/></g><g id="n58-5"><use href="#Wl" x="292" y="3026"/></g><g id="n58-6"><use href="#Bl" x="344" y="3026"/></g><g id="n58-7"><use href="#Bl" x="396" y="3026"/></g>
<g id="n59-1"><use href="#Br" x="84" y="3078"/></g><g id="n59-2"><use href="#Br" x="136" y="3078"/></g><g id="n59-3"><use href="#Br" x="188" y="3078"/></g><g id="n59-4"><use href="#Br" x="240" y="3078"/></g><g id="n59-5"><use href="#Wr" x="292" y="3078"/></g><g id="n59-6"><use href="#Br" x="344" y="3078"/></g><g id="n59-7"><use href="#Br" x="396" y="3078"/></g>
<g id="n60-1"><use href="#Bl" x="84" y="3130"/></g><g id="n60-2"><use href="#Bl" x="136" y="3130"/></g><g id="n60-3"><use href="#Bl" x="188" y="3130"/></g><g id="n60-4"><use href="#Bl" x="240" y="3130"/></g><g id="n60-5"><use href="#Bl" x="292" y="3130"/></g><g id="n60-6"><use href="#Bl" x="344" y="3130"/></g><g id="n60-7"><use href="#Bl" x="396" y="3130"/></g>
<g id="n61-1"><use href="#Br" x="84" y="3182"/></g><g id="n61-2"><use href="#Br" x="136" y="3182"/></g><g id="n61-3"><use href="#Wr" x="188" y="3182"/></g><g id="n61-4"><use href="#Br" x="240" y="3182"/></g><g id="n61-5"><use href="#Br" x="292" y="3182"/></g><g id="n61-6"><use href="#Br" x="344" y="3182"/></g><g id="n61-7"><use href="#Br" x="396" y="3182"/></g>
<g id="n62-1"><use href="#Bl" x="84" y="3234"/></g><g id="n62-2"><use href="#Wl" x="136" y="3234"/></g><g id="n62-3"><use href="#Wl" x="188" y="3234"/></g><g id="n62-4"><use href="#Bl" x="240" y="3234"/></g><g id="n62-5"><use href="#Bl" x="292" y="3234"/></g><g id="n62-6"><use href="#Bl" x="344" y="3234"/></g><g id="n62-7"><use href="#Bl" x="396" y="3234"/></g>
<g id="n63-1"><use href="#Br" x="84" y="3286"/></g><g id="n63-2"><use href="#Wr" x="136" y="3286"/></g><g id="n63-3"><use href="#Wr" x="188" y="3286"/></g><g id="n63-4"><use href="#Wr" x="240" y="3286"/></g><g id="n63-5"><use href="#Br" x="292" y="3286"/></g><g id="n63-6"><use href="#Br" x="344" y="3286"/></g><g id="n63-7"><use href="#Br" x="396" y="3286"/></g>
<g id="n64-1"><use href="#Bl" x="84" y="3338"/></g><g id="n64-2"><use href="#Wl" x="136" y="3338"/></g><g id="n64-3"><use href="#Wl" x="188" y="3338"/></g><g id="n64-4"><use href="#Wl" x="240" y="3338"/></g><g id="n64-5"><use href="#Bl" x="292" y="3338"/></g><g id="n64-6"><use href="#Bl" x="344" y="3338"/></g><g id="n64-7"><use href="#Wl" x="396" y="3338"/></g>
<g id="n65-1"><use href="#Br" x="84" y="3390"/></g><g id="n65-2"><use href="#Br" x="136" y="3390"/></g><g id="n65-3"><use href="#Wr" x="188" y="3390"/></g><g id="n65-4"><use href="#Br" x="240" y="3390"/></g><g id="n65-5"><use href="#Br" x="292" y="3390"/></g><g id="n65-6"><use href="#Wr" x="344" y="3390"/></g><g id="n65-7"><use href="#Wr" x="396" y="3390"/></g>
<g id="n66-1"><use href="#Bl" x="84" y="3442"/></g><g id="n66-2"><use href="#Bl" x="136" y="3442"/></g><g id="n66-3"><use href="#Bl" x="188" y="3442"/></g><g id="n66-4"><use href="#Bl" x="240" y="3442"/></g><g id="n66-5"><use href="#Bl" x="292" y="3442"/></g><g id="n66-6"><use href="#Wl" x="344" y="3442"/></g><g id="n66-7"><use href="#Wl" x="396" y="3442"/></g>
<g id="n67-1"><use href="#Wr" x="84" y="3494"/></g><g id="n67-2"><use href="#Br" x="136" y="3494"/></g><g id="n67-3"><use href="#Br" x="188" y="3494"/></g><g id="n67-4"><use href="#Br" x="240" y="3494"/></g><g id="n67-5"><use href="#Br" x="292" y="3494"/></g><g id="n67-6"><use href="#Br" x="344" y="3494"/></g><g id="n67-7"><use href="#Wr" x="396" y="3494"/></g>
<g id="n68-1"><use href="#Wl" x="84" y="3546"/></g><g id="n68-2"><use href="#Wl" x="136" y="3546"/></g><g id="n68-3"><use href="#Bl" x="188" y="3546"/></g><g id="n68-4"><use href="#Bl" x="240" y="3546"/></g><g id="n68-5"><use href="#Bl" x="292" y="3546"/></g><g id="n68-6"><use href="#Bl" x="344" y="3546"/></g><g id="n68-7"><use href="#Bl" x="396" y="3546"/></g>
</g>
<text class="wm" x="240" y="1809" textLength="153" lengthAdjust="spacingAndGlyphs">BRACELETBOOK.COM</text>
</svg>
